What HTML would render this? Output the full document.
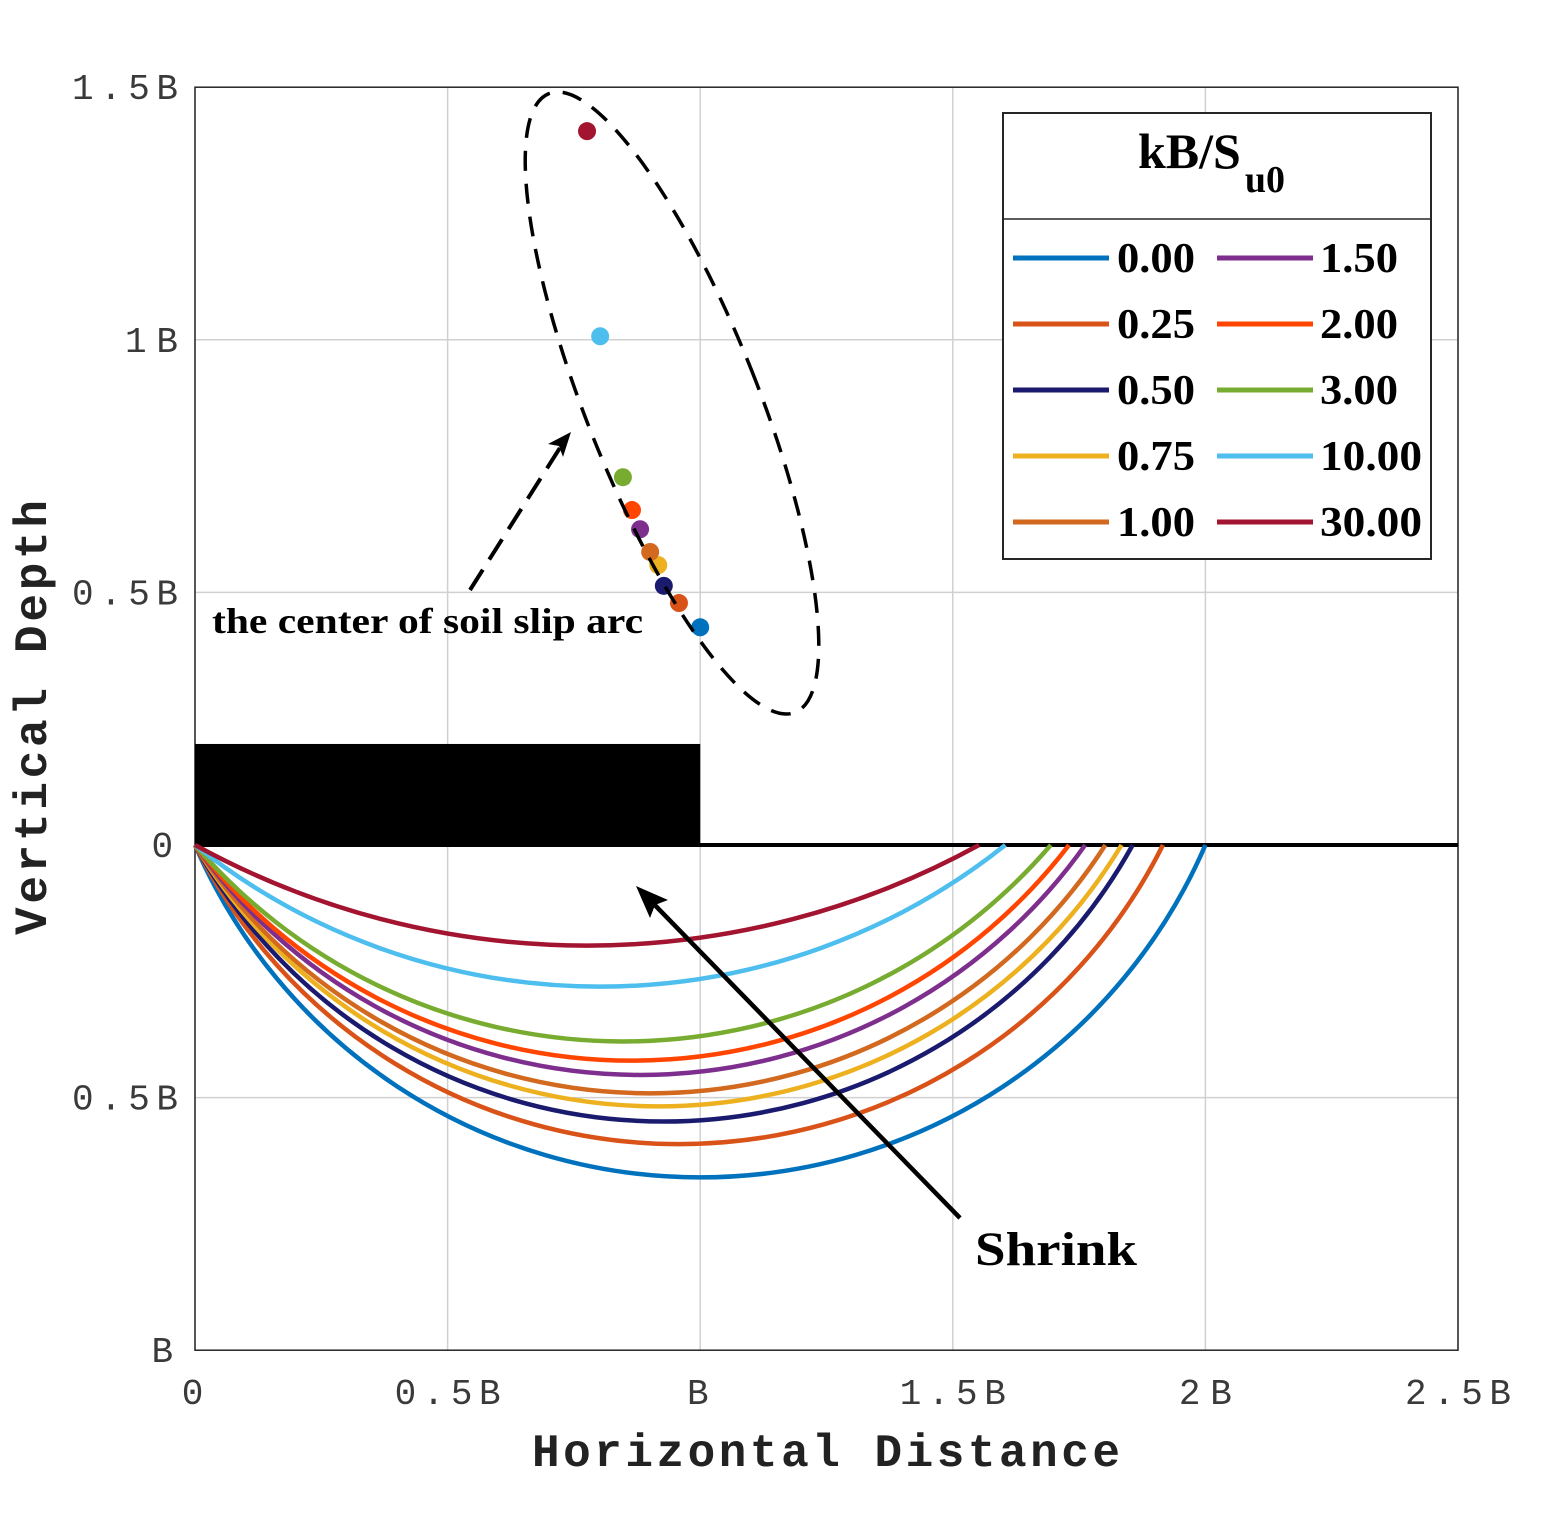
<!DOCTYPE html>
<html><head><meta charset="utf-8"><style>
html,body{margin:0;padding:0;background:#fff;width:1549px;height:1515px;overflow:hidden}
svg{display:block}
.tick{font-family:"Liberation Mono",monospace;font-size:36px;fill:#3a3a3a}
.axl{font-family:"Liberation Mono",monospace;font-size:46px;font-weight:bold;fill:#222}
.ser{font-family:"Liberation Serif",serif;font-weight:bold;fill:#000}
</style></head><body>
<svg id="chart" width="1549" height="1515" viewBox="0 0 1549 1515" xmlns="http://www.w3.org/2000/svg">
<g id="grid"></g>
<g id="plot"></g>
<g id="ticks"></g>
<text class="axl" x="532" y="1466" textLength="588" lengthAdjust="spacing">Horizontal Distance</text>
<text class="axl" transform="translate(46,935) rotate(-90)" textLength="435" lengthAdjust="spacing">Vertical Depth</text>
<g id="legend"></g>
</svg>
<script>
const labels=["0.00","0.25","0.50","0.75","1.00","1.50","2.00","3.00","10.00","30.00"];
const centerX=[1.0,0.958,0.928,0.917,0.901,0.881,0.865,0.847,0.802,0.776];
const centerY=[0.431,0.479,0.513,0.554,0.580,0.625,0.663,0.728,1.007,1.413];
const colors=["#0072BD","#D95319","#1a1a6e","#EDB120","#D2691E","#7E2F8E","#FF4500","#77AC30","#4DBEEE","#A2142F"];
const xTicks=[0,0.5,1,1.5,2,2.5];
const xTickLabels=["0","0.5B","B","1.5B","2B","2.5B"];
const yTicks=[1.5,1,0.5,0,-0.5,-1];
const yTickLabels=["1.5B","1B","0.5B","0","0.5B","B"];

const X0=195,X1=1458,Y0=845,S=505.2;
const sx=v=>X0+v*S, sy=v=>Y0-v*S;
const NS="http://www.w3.org/2000/svg";
function mk(tag,attrs,parent){const e=document.createElementNS(NS,tag);for(const k in attrs)e.setAttribute(k,attrs[k]);parent.appendChild(e);return e;}
const grid=document.getElementById('grid'),plot=document.getElementById('plot'),ticks=document.getElementById('ticks'),leg=document.getElementById('legend');
const CW=26.5;

xTicks.forEach((t,i)=>{
 const g=mk('line',{x1:sx(t),x2:sx(t),y1:sy(1.5),y2:sy(-1),stroke:'#d0d0d0','stroke-width':1.5},grid);
 
 
 const L=xTickLabels[i].length*CW;
 const tx=mk('text',{x:sx(t)-L/2,y:1404,class:'tick',textLength:L,lengthAdjust:'spacing'},ticks);tx.textContent=xTickLabels[i];
 
 
});
yTicks.forEach((t,i)=>{
 const g=mk('line',{x1:X0,x2:X1,y1:sy(t),y2:sy(t),stroke:'#d0d0d0','stroke-width':1.5},grid);
 
 
 const L=yTickLabels[i].length*CW;
 const tx=mk('text',{x:178-L,y:sy(t)+12,class:'tick',textLength:L,lengthAdjust:'spacing'},ticks);tx.textContent=yTickLabels[i];
 
 
});
const box=mk('rect',{x:X0,y:sy(1.5),width:X1-X0,height:sy(-1)-sy(1.5),fill:'none',stroke:'#262626','stroke-width':1.5},grid);



const ft=mk('rect',{x:sx(0),y:sy(0.2),width:sx(1)-sx(0),height:sy(0)-sy(0.2),fill:'#000'},plot);


const gl=mk('line',{x1:X0,x2:X1,y1:Y0,y2:Y0,stroke:'#000','stroke-width':4},plot);



for(let i=0;i<labels.length;i++){
 const cx=centerX[i],cy=centerY[i],r=Math.hypot(cx,cy),rp=r*S;
 const d=`M${sx(0)},${sy(0)} A${rp},${rp} 0 0 0 ${sx(2*cx)},${sy(0)}`;
 const p=mk('path',{d:d,fill:'none',stroke:colors[i],'stroke-width':4.5},plot);
 
 
}
for(let i=0;i<labels.length;i++){
 const c=mk('circle',{cx:sx(centerX[i]),cy:sy(centerY[i]),r:9,fill:colors[i]},plot);
 
 
}
const el=mk('ellipse',{cx:672,cy:403,rx:86,ry:333,fill:'none',stroke:'#000','stroke-width':3.5,'stroke-dasharray':'20,13',transform:'rotate(-21.7 672 403)'},plot);


const da=mk('line',{x1:470,y1:590,x2:563,y2:443,stroke:'#000','stroke-width':4,'stroke-dasharray':'24,12'},plot);


const dh=mk('path',{d:'M571,432 L548,444 L559,446 L563,457 Z',fill:'#000'},plot);


const sa=mk('line',{x1:960,y1:1218,x2:645,y2:895,stroke:'#000','stroke-width':4.5},plot);


const sh=mk('path',{d:'M636,886 L668,900 L655,905 L650,918 Z',fill:'#000'},plot);


const t1=mk('text',{x:212,y:633,class:'ser','font-size':36,textLength:431,lengthAdjust:'spacingAndGlyphs'},plot);t1.textContent='the center of soil slip arc';


const t2=mk('text',{x:975,y:1265,class:'ser','font-size':48,textLength:162,lengthAdjust:'spacingAndGlyphs'},plot);t2.textContent='Shrink';



const lb=mk('rect',{x:1003,y:113,width:428,height:446,fill:'#fff',stroke:'#262626','stroke-width':2},leg);


const ls=mk('line',{x1:1003,x2:1431,y1:219,y2:219,stroke:'#262626','stroke-width':1.5},leg);


const lt=mk('text',{x:1138,y:168,class:'ser','font-size':50},leg);
lt.innerHTML='kB/S<tspan font-size="38" dy="24" dx="4">u0</tspan>';


for(let i=0;i<labels.length;i++){
 const col=Math.floor(i/5),row=i%5;
 const lx=col?1217:1013,tx=col?1320:1117,y=258+row*66;
 const g=mk('g',{},leg);
 
 
 mk('line',{x1:lx,x2:lx+96,y1:y,y2:y,stroke:colors[i],'stroke-width':5},g);
 const w=labels[i].length===4?78:102;
 const t=mk('text',{x:tx,y:y+14,class:'ser','font-size':42,textLength:w,lengthAdjust:'spacingAndGlyphs'},g);t.textContent=labels[i];
}
</script>
</body></html>
